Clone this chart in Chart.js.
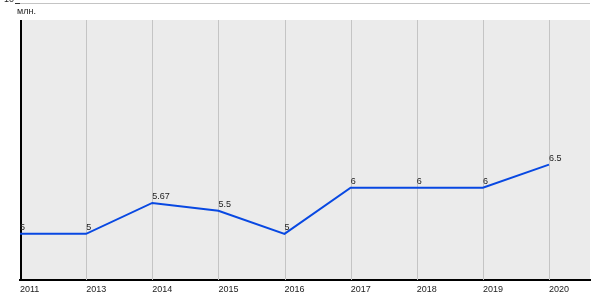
<!DOCTYPE html>
<html>
<head>
<meta charset="utf-8">
<script src="https://cdn.jsdelivr.net/npm/chart.js@4/dist/chart.umd.min.js"></script>
<style>
  html,body{margin:0;padding:0;background:#fff;}
  #wrap{width:600px;height:300px;}
</style>
</head>
<body>
<div id="wrap"><canvas id="c" width="600" height="300"></canvas></div>
<script>
const categories = ['2011','2013','2014','2015','2016','2017','2018','2019','2020'];
const values = [5, 5, 5.67, 5.5, 5, 6, 6, 6, 6.5];
const valueLabels = ['5','5','5.67','5.5','5','6','6','6','6.5'];
const yTickValues = [10];
const unitLabel = 'млн.';

const FONT = 'Liberation Sans, Arial, sans-serif';
const BG_TOP = 20;

const decor = {
  id: 'decor',
  beforeDraw(chart) {
    const {ctx, chartArea} = chart;
    ctx.save();
    ctx.fillStyle = '#ebebeb';
    ctx.fillRect(chartArea.left, BG_TOP, chartArea.right - chartArea.left, chartArea.bottom - BG_TOP);
    ctx.restore();
  },
  beforeDatasetsDraw(chart) {
    const {ctx, chartArea, scales} = chart;
    const xs = scales.x, ys = scales.y;
    ctx.save();
    ctx.strokeStyle = '#c4c4c4';
    ctx.lineWidth = 1;
    categories.forEach((c, i) => {
      const px = Math.round(xs.getPixelForValue(i)) + 0.5;
      ctx.beginPath();
      ctx.moveTo(px, BG_TOP);
      ctx.lineTo(px, chartArea.bottom);
      ctx.stroke();
    });
    ctx.strokeStyle = '#000';
    ctx.lineWidth = 2;
    ctx.beginPath();
    ctx.moveTo(chartArea.left + 1, BG_TOP);
    ctx.lineTo(chartArea.left + 1, chartArea.bottom);
    ctx.stroke();
    ctx.fillStyle = '#222';
    ctx.font = '9px ' + FONT;
    ctx.textBaseline = 'middle';
    ctx.textAlign = 'left';
    ctx.fillText(unitLabel, chartArea.left - 3, 12);
    // y tick labels
    ctx.textAlign = 'right';
    yTickValues.forEach(v => {
      ctx.fillText(String(v), chartArea.left - 6, ys.getPixelForValue(v) - 3);
    });
    ctx.restore();
  },
  afterDatasetsDraw(chart) {
    const {ctx} = chart;
    const meta = chart.getDatasetMeta(0);
    ctx.save();
    ctx.fillStyle = '#222';
    ctx.font = '9px ' + FONT;
    ctx.textAlign = 'left';
    ctx.textBaseline = 'alphabetic';
    meta.data.forEach((pt, i) => {
      ctx.fillText(valueLabels[i], pt.x, pt.y - 4);
    });
    ctx.restore();
  }
};

new Chart(document.getElementById('c'), {
  type: 'line',
  data: {
    datasets: [{
      data: values.map((v, i) => ({x: i, y: v})),
      borderColor: '#0848e2',
      borderWidth: 2,
      pointRadius: 0,
      tension: 0,
      fill: false
    }]
  },
  options: {
    responsive: false,
    animation: false,
    events: [],
    layout: {padding: {top: 3, right: 10, left: 0, bottom: 0}},
    plugins: {legend: {display: false}, tooltip: {enabled: false}, title: {display: false}},
    scales: {
      x: {
        type: 'linear',
        min: 0,
        max: 8.62,
        afterBuildTicks(scale) { scale.ticks = categories.map((c, i) => ({value: i})); },
        afterFit(scale) { scale.height = 20; },
        grid: {display: false, drawTicks: false},
        border: {display: true, color: '#000', width: 2},
        ticks: {
          align: 'start',
          maxRotation: 0,
          autoSkip: false,
          padding: 4,
          color: '#222',
          font: {family: FONT, size: 9},
          callback: (v) => categories[v]
        }
      },
      y: {
        type: 'linear',
        min: 4,
        max: 10,
        afterBuildTicks(scale) { scale.ticks = yTickValues.map(v => ({value: v})); },
        afterFit(scale) { scale.width = 20; },
        grid: {color: '#c4c4c4', tickColor: '#333', tickLength: 5, drawTicks: true},
        border: {display: false},
        ticks: {display: false}
      }
    }
  },
  plugins: [decor]
});
</script>
</body>
</html>
